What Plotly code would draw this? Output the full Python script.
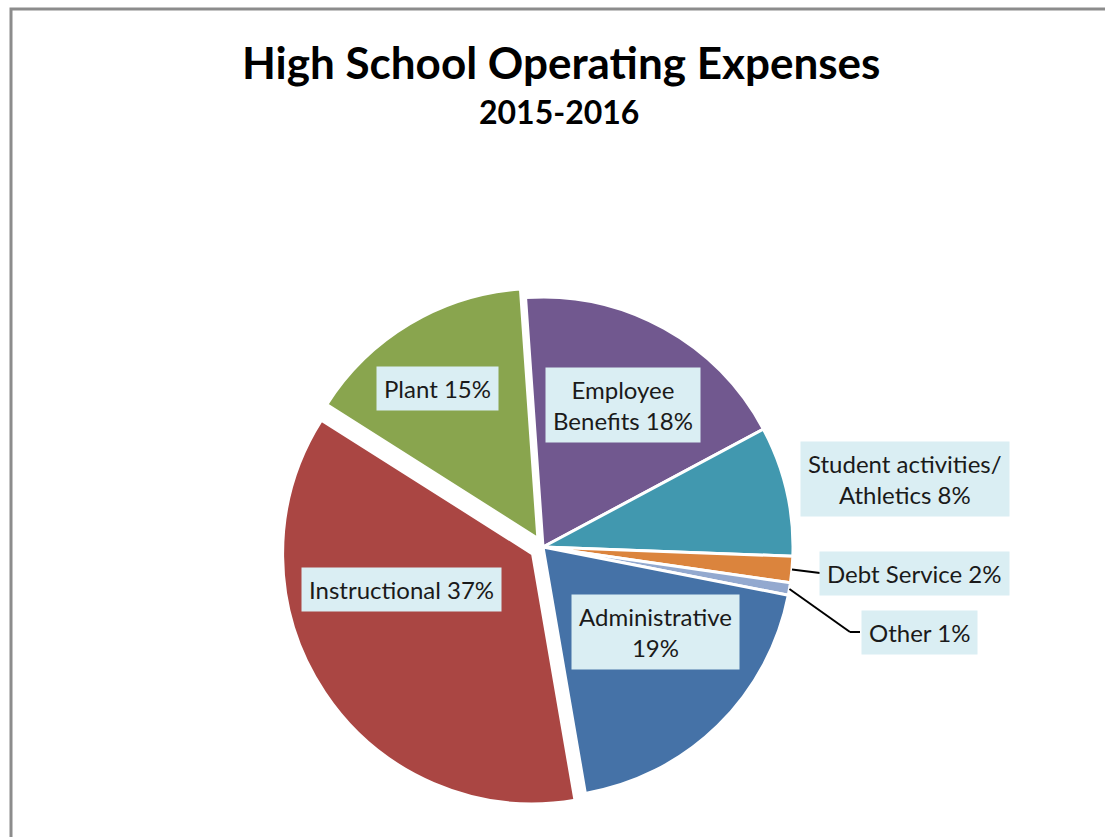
import math
import plotly.graph_objects as go

# ---- data ----
categories = ["Employee Benefits", "Student activities/ Athletics", "Debt Service",
              "Other", "Administrative", "Instructional", "Plant"]
values = [18.3, 8.4, 1.7, 0.8, 19.2, 36.7, 14.9]
label_lines = [["Employee", "Benefits {}%"], ["Student activities/", "Athletics {}%"],
               ["Debt Service {}%"], ["Other {}%"], ["Administrative", "{}%"],
               ["Instructional {}%"], ["Plant {}%"]]
title_text = "High School Operating Expenses"
subtitle_text = "2015-2016"

# ---- style ----
W, H = 1105, 837
colors = ["#71588F", "#4198AF", "#DB843D", "#93A9CF", "#4572A7", "#AA4643", "#89A54E"]
pulls = [0, 0, 0, 0, 0, 0.05, 0.04]
ROT = -4
CX, CY, R = 543, 547, 250
FONT = "Lato"
# label box centres in pixels
label_xy = [(623, 405), (905, 479), (915, 573), (919, 632), (655, 632), (401, 589), (437, 388)]
# leader-line elbow points (pixels), None = no leader
leader_elbow = [None, None, [(820, 573)], [(850, 632), (860, 632)], None, None, None]

def px(x):
    return x / W

def py(y):
    return 1 - y / H

maxpull = max(pulls)
half = R * (1 + maxpull)

fig = go.Figure(go.Pie(
    labels=categories, values=values, sort=False, direction="clockwise",
    rotation=ROT, pull=pulls, textinfo="none", hoverinfo="label+percent",
    marker=dict(colors=colors, line=dict(color="white", width=3)),
    domain=dict(x=[px(CX - half), px(CX + half)], y=[py(CY + half), py(CY - half)]),
    showlegend=False,
))

total = sum(values)
annotations = []
shapes = []
cum = 0
for i, v in enumerate(values):
    a0 = ROT + cum / total * 360
    cum += v
    a1 = ROT + cum / total * 360
    mid = math.radians((a0 + a1) / 2)
    pct = round(v / total * 100)
    text = "<br>".join(s.format(pct) if "{}" in s else s for s in label_lines[i])
    lx, ly = label_xy[i]
    annotations.append(dict(
        x=px(lx), y=py(ly), xref="paper", yref="paper", text=text, showarrow=False,
        font=dict(family=FONT, size=24, color="#1a1a1a"), bgcolor="#DAEEF3",
        borderpad=7, xanchor="center", yanchor="middle", align="center"))
    if leader_elbow[i]:
        sx = CX + R * math.sin(mid)
        sy = CY - R * math.cos(mid)
        pts = [(sx, sy)] + leader_elbow[i]
        for (x0, y0), (x1, y1) in zip(pts[:-1], pts[1:]):
            shapes.append(dict(type="line", xref="paper", yref="paper",
                               x0=px(x0), y0=py(y0), x1=px(x1), y1=py(y1),
                               line=dict(color="black", width=2)))

annotations.append(dict(x=px(561), y=py(62), xref="paper", yref="paper",
                        text="<b>" + title_text + "</b>", showarrow=False,
                        font=dict(family=FONT, size=44, color="black"),
                        xanchor="center", yanchor="middle"))
annotations.append(dict(x=px(559), y=py(112), xref="paper", yref="paper",
                        text="<b>" + subtitle_text + "</b>", showarrow=False,
                        font=dict(family=FONT, size=32, color="black"),
                        xanchor="center", yanchor="middle"))

shapes.append(dict(type="rect", xref="paper", yref="paper",
                   x0=px(11), x1=1.05, y0=-0.05, y1=py(9),
                   line=dict(color="#8C8C8C", width=3), layer="below"))

fig.update_layout(width=W, height=H, margin=dict(l=0, r=0, t=0, b=0),
                  paper_bgcolor="white", plot_bgcolor="white",
                  annotations=annotations, shapes=shapes)

fig.write_html("out.html", config={"displayModeBar": False},
               post_script="document.body.style.margin='0';")
